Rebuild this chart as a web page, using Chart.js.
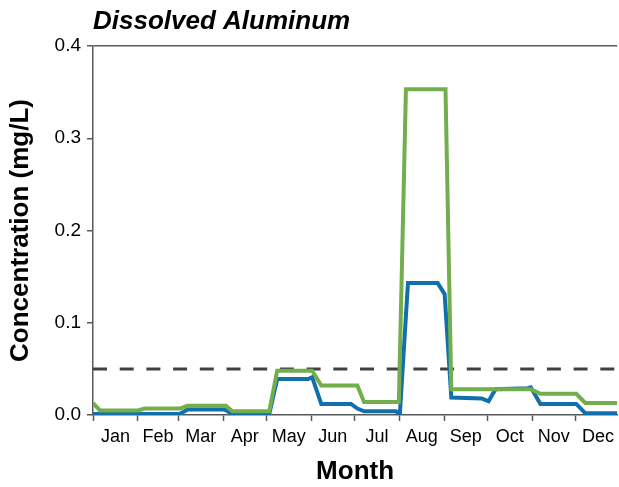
<!DOCTYPE html>
<html>
<head>
<meta charset="utf-8">
<script src="https://cdn.jsdelivr.net/npm/chart.js@4"></script>
<style>
  html, body { margin: 0; padding: 0; background: #fff; overflow: hidden; }
  #wrap { width: 619px; height: 487px; }
</style>
</head>
<body>
<div id="wrap"><canvas id="myChart" width="619" height="487"></canvas></div>
<script>
// day of year for each point, and value in mg/L
const greenDays = [0, 4.8, 31, 36, 60, 65.5, 92, 96.5, 122, 127.5, 151.7, 158, 183, 187.6, 211.7, 216.6, 244, 248, 303, 309.7, 334.5, 340.7, 363];
const greenVals = [0.013, 0.005, 0.005, 0.007, 0.007, 0.010, 0.010, 0.004, 0.004, 0.048, 0.048, 0.032, 0.032, 0.014, 0.014, 0.353, 0.353, 0.028, 0.028, 0.023, 0.023, 0.013, 0.013];

const blueDays = [0, 60, 65.5, 91, 96.5, 122, 127.5, 149, 151.7, 158, 178.6, 183, 187.6, 209.7, 212.4, 218, 238.6, 243.4, 248, 268.9, 273.8, 278.6, 301, 303, 309.7, 334.5, 340.7, 363];
const blueVals = [0.001, 0.001, 0.006, 0.006, 0.001, 0.001, 0.039, 0.039, 0.041, 0.012, 0.012, 0.007, 0.004, 0.004, 0.001, 0.143, 0.143, 0.131, 0.019, 0.018, 0.015, 0.028, 0.029, 0.030, 0.012, 0.012, 0.002, 0.002];

const limitValue = 0.05;

const months = ['Jan', 'Feb', 'Mar', 'Apr', 'May', 'Jun', 'Jul', 'Aug', 'Sep', 'Oct', 'Nov', 'Dec'];
const monthStarts = [0, 31, 59, 90, 120, 151, 181, 212, 243, 273, 304, 334, 365];
const yTicks = [0, 0.1, 0.2, 0.3, 0.4];

const xMax = 362.8;
const axisColor = '#595959';

function toPoints(days, vals) {
    return days.map((d, i) => ({ x: d, y: vals[i] }));
}

// ticks: month boundaries (marks only) + mid-month (labels only)
const xTicks = [];
for (let i = 0; i < months.length; i++) {
    xTicks.push({ value: monthStarts[i], label: '', mark: true });
    xTicks.push({ value: (monthStarts[i] + monthStarts[i + 1]) / 2, label: months[i], mark: false });
}

let ctx = document.querySelector("#myChart");

new Chart(ctx, {
    type: 'line',
    data: {
        datasets: [
            {
                label: 'Limit',
                data: [{ x: 0, y: limitValue }, { x: xMax, y: limitValue }],
                borderColor: '#404040',
                borderWidth: 3,
                borderDash: [14, 12.7],
                pointRadius: 0,
                order: 3
            },
            {
                label: 'Green',
                data: toPoints(greenDays, greenVals),
                borderColor: '#72ae4c',
                borderWidth: 4,
                pointRadius: 0,
                tension: 0,
                order: 1
            },
            {
                label: 'Blue',
                data: toPoints(blueDays, blueVals),
                borderColor: '#116fae',
                borderWidth: 4,
                pointRadius: 0,
                tension: 0,
                order: 2
            }
        ]
    },
    options: {
        responsive: false,
        animation: false,
        layout: { padding: 0 },
        plugins: {
            legend: { display: false },
            tooltip: { enabled: false },
            title: {
                display: true,
                text: 'Dissolved Aluminum',
                align: 'start',
                fullSize: false,
                color: '#000',
                font: { family: 'Liberation Sans, Arial, sans-serif', size: 26, weight: 'bold', style: 'italic', lineHeight: 1.2 },
                padding: { top: 6, bottom: 8.8, left: 2 }
            }
        },
        scales: {
            x: {
                type: 'linear',
                min: 0,
                max: xMax,
                afterBuildTicks: (scale) => {
                    scale.ticks = xTicks.filter(t => t.value <= xMax).map(t => ({ value: t.value }));
                },
                afterFit: (scale) => { scale.height = 72; },
                border: { display: true, color: axisColor, width: 1.5 },
                grid: {
                    drawOnChartArea: false,
                    drawTicks: true,
                    tickLength: 6,
                    tickWidth: 1.5,
                    tickColor: (c) => {
                        const t = xTicks.find(k => k.value === c.tick.value);
                        return t && t.mark ? axisColor : 'rgba(0,0,0,0)';
                    }
                },
                ticks: {
                    autoSkip: false,
                    maxRotation: 0,
                    padding: 5,
                    color: '#000',
                    font: { family: 'Liberation Sans, Arial, sans-serif', size: 18 },
                    callback: (v) => {
                        const t = xTicks.find(k => k.value === v);
                        return t ? t.label : '';
                    }
                },
                title: {
                    display: true,
                    text: 'Month',
                    color: '#000',
                    font: { family: 'Liberation Sans, Arial, sans-serif', size: 26, weight: 'bold', lineHeight: 1.2 },
                    padding: { top: 0, bottom: 0 }
                }
            },
            y: {
                min: 0,
                max: 0.4,
                afterBuildTicks: (scale) => {
                    scale.ticks = yTicks.map(v => ({ value: v }));
                },
                afterFit: (scale) => { scale.width = 93; },
                border: { display: true, color: axisColor, width: 1.5 },
                grid: {
                    drawOnChartArea: true,
                    drawTicks: true,
                    tickLength: 6,
                    lineWidth: 1.5,
                    tickWidth: 1.5,
                    color: (c) => c.tick && c.tick.value === 0.4 ? axisColor : 'rgba(0,0,0,0)',
                    tickColor: axisColor
                },
                ticks: {
                    padding: 6,
                    color: '#000',
                    font: { family: 'Liberation Sans, Arial, sans-serif', size: 19 },
                    callback: (v) => Number(v).toFixed(1)
                },
                title: {
                    display: true,
                    text: 'Concentration (mg/L)',
                    color: '#000',
                    font: { family: 'Liberation Sans, Arial, sans-serif', size: 26, weight: 'bold', lineHeight: 1.2 },
                    padding: { top: 5, bottom: 0 }
                }
            }
        }
    }
});
</script>
</body>
</html>
